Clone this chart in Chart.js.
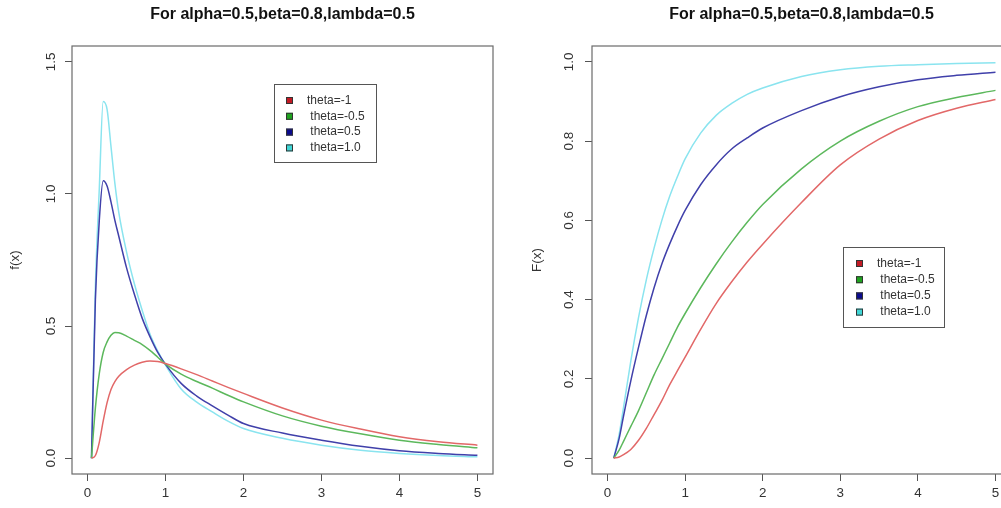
<!DOCTYPE html>
<html>
<head>
<meta charset="utf-8">
<script src="https://cdn.jsdelivr.net/npm/chart.js@4"></script>
<style>
  html, body { margin: 0; padding: 0; width: 1001px; height: 508px; overflow: hidden; background: #fff; }
  #wrap { position: relative; width: 1001px; height: 508px; overflow: hidden; }
  #c1 { position: absolute; left: 0; top: 0; }
  #c2 { position: absolute; left: 500px; top: 0; }
</style>
</head>
<body>
<div id="wrap">
  <canvas id="c1" width="500" height="508"></canvas>
  <canvas id="c2" width="530" height="508"></canvas>
</div>
<script>
// ---------- data ----------
const chartTitle = "For alpha=0.5,beta=0.8,lambda=0.5";
const seriesLabels = ["theta=-1", " theta=-0.5", " theta=0.5", " theta=1.0"];

const xTicks = [0, 1, 2, 3, 4, 5];
const pdfYTicks = [0, 0.5, 1.0, 1.5];
const cdfYTicks = [0, 0.2, 0.4, 0.6, 0.8, 1.0];

// density f(x)
const pdfX = [0.05, 0.1, 0.15, 0.2, 0.25, 0.3, 0.35, 0.4, 0.5, 0.6, 0.7, 0.8, 0.9, 1.0, 1.2, 1.4, 1.6, 1.8, 2.0, 2.5, 3.0, 3.5, 4.0, 4.5, 5.0];
const pdfThetaM1  = [0.0, 0.01, 0.06, 0.14, 0.21, 0.26, 0.29, 0.31, 0.335, 0.352, 0.363, 0.368, 0.366, 0.358, 0.338, 0.316, 0.292, 0.268, 0.245, 0.19, 0.144, 0.11, 0.081, 0.062, 0.049];
const pdfThetaM05 = [0.0, 0.19, 0.32, 0.40, 0.44, 0.465, 0.476, 0.475, 0.462, 0.446, 0.43, 0.408, 0.382, 0.356, 0.318, 0.29, 0.265, 0.238, 0.213, 0.16, 0.121, 0.092, 0.068, 0.052, 0.039];
const pdfTheta05  = [0.0, 0.6, 0.9, 1.05, 1.03, 0.97, 0.90, 0.84, 0.72, 0.62, 0.53, 0.46, 0.40, 0.355, 0.283, 0.235, 0.198, 0.163, 0.131, 0.095, 0.068, 0.045, 0.028, 0.018, 0.011];
const pdfTheta10  = [0.0, 0.65, 1.02, 1.35, 1.32, 1.18, 1.04, 0.93, 0.78, 0.66, 0.56, 0.47, 0.405, 0.352, 0.262, 0.212, 0.175, 0.14, 0.112, 0.075, 0.049, 0.03, 0.018, 0.01, 0.005];

// distribution F(x)
const cdfX = [0.08, 0.15, 0.2, 0.3, 0.4, 0.5, 0.6, 0.7, 0.8, 0.9, 1.0, 1.2, 1.4, 1.6, 1.8, 2.0, 2.5, 3.0, 3.5, 4.0, 4.5, 5.0];
const cdfThetaM1  = [0.0, 0.003, 0.008, 0.022, 0.045, 0.075, 0.11, 0.145, 0.185, 0.22, 0.255, 0.325, 0.39, 0.445, 0.495, 0.54, 0.645, 0.74, 0.805, 0.852, 0.883, 0.905];
const cdfThetaM05 = [0.0, 0.02, 0.04, 0.08, 0.12, 0.165, 0.21, 0.25, 0.29, 0.33, 0.365, 0.43, 0.49, 0.545, 0.595, 0.64, 0.73, 0.80, 0.85, 0.887, 0.91, 0.928];
const cdfTheta05  = [0.0, 0.05, 0.1, 0.195, 0.28, 0.36, 0.43, 0.49, 0.54, 0.585, 0.625, 0.69, 0.74, 0.78, 0.808, 0.833, 0.877, 0.912, 0.937, 0.955, 0.966, 0.974];
const cdfTheta10  = [0.0, 0.06, 0.12, 0.245, 0.355, 0.45, 0.53, 0.6, 0.66, 0.71, 0.755, 0.82, 0.865, 0.895, 0.918, 0.934, 0.963, 0.98, 0.989, 0.993, 0.996, 0.998];

// ---------- styling ----------
const lineColors = ["#e26868", "#5cb85c", "#4040aa", "#8ae4ef"];
const boxColors  = ["#c21a24", "#1fa31f", "#0b0b8e", "#3fd6d6"];
const FONT = '"Liberation Sans", Arial, Helvetica, sans-serif';
Chart.defaults.font.family = FONT;

function pts(xs, ys) { return xs.map((x, i) => ({ x: x, y: ys[i] })); }
function makeDatasets(xs, list) {
  return list.map((ys, i) => ({
    label: seriesLabels[i].trim(),
    data: pts(xs, ys),
    borderColor: lineColors[i],
    borderWidth: 1.5,
    pointRadius: 0,
    fill: false,
    cubicInterpolationMode: 'monotone'
  }));
}

const rStyle = {
  id: 'rStyle',
  afterDraw(chart, args, o) {
    const { ctx, chartArea: a } = chart;
    ctx.save();
    // plot box
    ctx.strokeStyle = '#6a6a6a';
    ctx.lineWidth = 1.2;
    ctx.strokeRect(a.left, a.top, a.right - a.left, a.bottom - a.top);
    // main title
    ctx.fillStyle = '#111';
    ctx.font = 'bold 16px ' + FONT;
    ctx.textAlign = 'center';
    ctx.textBaseline = 'middle';
    ctx.fillText(o.title, (a.left + a.right) / 2, 15);
    // legend
    const L = o.legend;
    ctx.strokeStyle = '#555';
    ctx.lineWidth = 1;
    ctx.strokeRect(L.x + 0.5, L.y + 0.5, L.w, L.h);
    ctx.font = '12px ' + FONT;
    ctx.textAlign = 'left';
    ctx.textBaseline = 'middle';
    seriesLabels.forEach((lab, i) => {
      const cy = L.y + L.first + i * L.step;
      ctx.fillStyle = boxColors[i];
      ctx.fillRect(L.x + L.sx, cy - 3.5, 7, 7);
      ctx.strokeStyle = '#333';
      ctx.strokeRect(L.x + L.sx + 0.5, cy - 3.5 + 0.5, 6, 6);
      ctx.fillStyle = '#333';
      ctx.fillText(lab, L.x + L.tx, cy);
    });
    ctx.restore();
  }
};

function makeChart(id, xs, list, yMin, yMax, yTicks, yTitle, yW, tickPad, titlePad, padRight, legend) {
  return new Chart(document.getElementById(id), {
    type: 'line',
    data: { datasets: makeDatasets(xs, list) },
    options: {
      responsive: false,
      animation: false,
      devicePixelRatio: 1,
      layout: { padding: { left: 0, top: 46, right: padRight, bottom: 0 } },
      plugins: {
        legend: { display: false },
        title: { display: false },
        tooltip: { enabled: false },
        rStyle: { title: chartTitle, legend: legend }
      },
      scales: {
        x: {
          type: 'linear',
          min: -0.2, max: 5.2,
          afterBuildTicks: s => { s.ticks = xTicks.map(v => ({ value: v })); },
          afterFit: s => { s.height = 34; },
          border: { display: false },
          grid: { drawOnChartArea: false, drawTicks: true, tickLength: 7, color: '#555', tickColor: '#555', tickWidth: 1 },
          ticks: { autoSkip: false, maxRotation: 0, padding: 4, color: '#333', font: { size: 13.4 },
                   callback: v => String(v) }
        },
        y: {
          type: 'linear',
          min: yMin, max: yMax,
          afterBuildTicks: s => { s.ticks = yTicks.map(v => ({ value: v })); },
          afterFit: s => { s.width = yW; },
          border: { display: false },
          grid: { drawOnChartArea: false, drawTicks: true, tickLength: 7, color: '#555', tickColor: '#555', tickWidth: 1 },
          ticks: { autoSkip: false, minRotation: 90, maxRotation: 90, crossAlign: 'center', padding: tickPad,
                   color: '#333', font: { size: 13.4 }, callback: v => Number(v).toFixed(1) },
          title: { display: true, text: yTitle, color: '#333', font: { size: 13.4 }, padding: { top: titlePad, bottom: 0 } }
        }
      }
    },
    plugins: [rStyle]
  });
}

makeChart('c1', pdfX, [pdfThetaM1, pdfThetaM05, pdfTheta05, pdfTheta10],
  -0.06, 1.56, pdfYTicks, 'f(x)', 72, 4.5, 7, 7,
  { x: 274, y: 84, w: 102, h: 78, first: 16.5, step: 15.8, sx: 12, tx: 33 });

makeChart('c2', cdfX, [cdfThetaM1, cdfThetaM05, cdfTheta05, cdfTheta10],
  -0.04, 1.04, cdfYTicks, 'F(x)', 92, 6.5, 29, 19,
  { x: 343, y: 247, w: 101, h: 80, first: 16.5, step: 16.2, sx: 13, tx: 34 });
</script>
</body>
</html>
